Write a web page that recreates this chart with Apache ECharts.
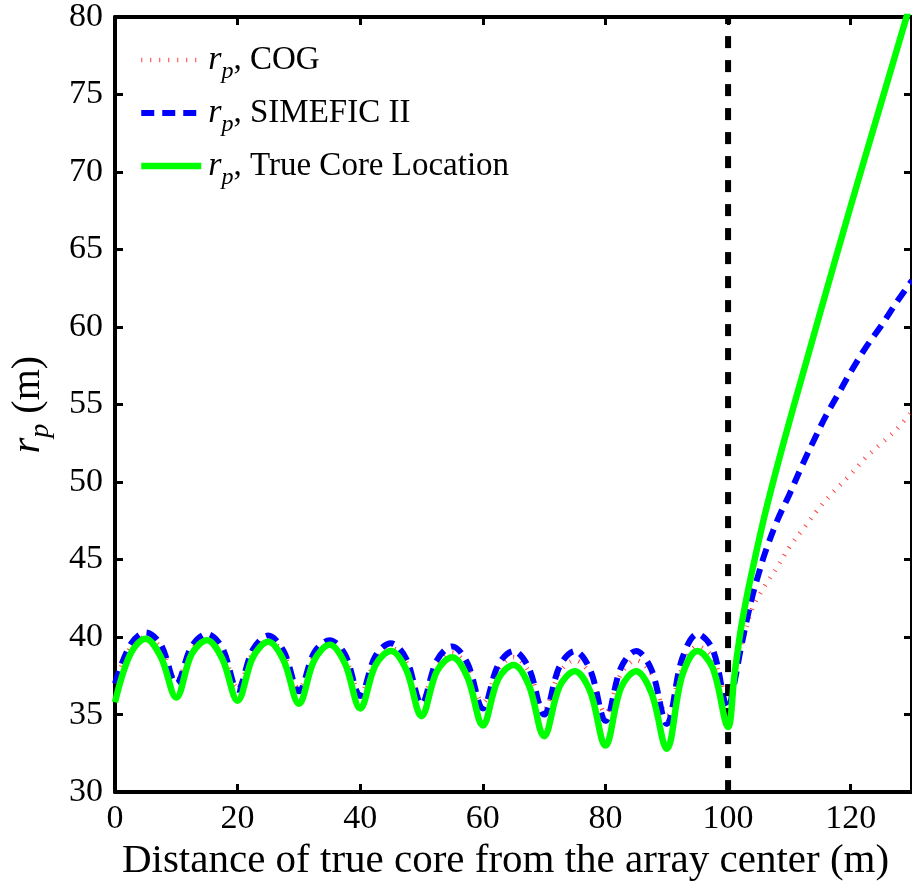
<!DOCTYPE html>
<html><head><meta charset="utf-8">
<script src="https://cdn.jsdelivr.net/npm/echarts@6/dist/echarts.min.js"></script>
<style>html,body{margin:0;padding:0;background:#fff}#c{width:912px;height:887px}</style>
</head><body><div id="c"></div>
<script>
// Shared x positions for the oscillating part (m)
const xOsc = [0,2.5,5,7.5,10,12.5,15,17.5,20,22.5,25,27.5,30,32.5,35,37.5,40,42.5,45,47.5,50,
  52.5,55,57.5,60,62.5,65,67.5,70,72.5,75,77.5,80,82.5,85,87.5,90,92.5,95,97.5,100];

// r_p, COG
const cogOsc = [37.0,39.3,40.0,39.3,37.2,39.2,39.9,39.1,36.8,39.0,39.8,38.9,36.7,38.8,39.5,38.7,36.4,38.5,39.3,38.4,36.0,
  38.2,39.0,38.1,35.8,37.9,38.7,37.8,35.4,37.7,38.5,37.6,35.1,37.6,38.5,37.6,35.0,38.0,39.4,38.7,36.0];
const cogRiseX = [101,102,103,104,106,108,110,112.5,115,117.5,120,122.5,125,127.5,130];
const cogRise  = [37.6,39.3,40.6,41.9,43.3,44.5,45.8,47.1,48.4,49.5,50.5,51.6,52.5,53.4,54.6];

// r_p, SIMEFIC II
const simOsc = [37.0,39.5,40.3,39.5,37.0,39.4,40.2,39.3,36.6,39.2,40.1,39.1,36.5,39.0,39.8,38.9,36.2,38.8,39.6,38.6,35.7,
  38.5,39.4,38.3,35.4,38.2,39.1,38.0,35.0,38.1,39.1,37.9,34.6,38.0,39.1,37.9,34.4,38.6,40.2,39.2,35.4];
const simRiseX = [101,102,103,104,105,106,108,110,112,114,116,118,120,122.5,125,127.5,130];
const simRise  = [37.0,39.1,41.0,42.7,44.1,45.4,47.5,49.2,51.0,52.7,54.3,55.7,57.1,58.7,60.1,61.6,63.0];

// r_p, True Core Location
const trueOsc = [35.8,38.9,39.9,38.7,36.1,38.9,39.8,38.6,35.9,38.7,39.7,38.5,35.7,38.5,39.5,38.3,35.4,38.2,39.1,37.9,34.9,
  37.8,38.7,37.4,34.3,37.3,38.2,36.9,33.6,36.8,37.8,36.5,33.0,36.7,37.8,36.4,32.8,37.5,39.1,38.0,34.2];
const trueRiseX = [101,102,103,104,106,108,110,112,115,120,125,130];
const trueRise  = [37.4,40.3,42.5,44.4,47.9,51.0,53.9,56.7,60.9,67.8,74.5,81.2];

// vertical marker (array edge)
const vlineX = [100,100];
const vlineY = [30,80];

const seriesNames = ['COG','SIMEFIC II','True Core Location'];
const xTicks = {min:0, max:130, interval:20};
const yTicks = {min:30, max:80, interval:5};

const FONT = "'Liberation Serif','Times New Roman',serif";
function pairs(xs, ys){ return xs.map((v,i)=>[v, ys[i]]); }

const COLORS = ['#ff2020','#0000ff','#00ff00'];
const STYLES = [
  {color:COLORS[0], width:4.5, type:[1,8], opacity:0.85},
  {color:COLORS[1], width:6, type:[13,8]},
  {color:COLORS[2], width:6.5, type:'solid'}
];

const chart = echarts.init(document.getElementById('c'), null, {renderer:'canvas'});
const axisLineStyle = {color:'#000', width:4};
const tickStyle = {show:true, inside:true, length:8, lineStyle:{color:'#000', width:3}};
const rich = {
  r:{fontFamily:FONT, fontStyle:'italic', fontSize:34, lineHeight:48, color:'#000', padding:[0,0,0,2]},
  s:{fontFamily:FONT, fontStyle:'italic', fontSize:24, lineHeight:22, verticalAlign:'bottom', color:'#000'},
  t:{fontFamily:FONT, fontSize:33, lineHeight:48, color:'#000'}
};
const richName = {
  r:{fontFamily:FONT, fontStyle:'italic', fontSize:40, lineHeight:54, color:'#000'},
  s:{fontFamily:FONT, fontStyle:'italic', fontSize:28, lineHeight:28, verticalAlign:'bottom', color:'#000'},
  t:{fontFamily:FONT, fontSize:40, lineHeight:54, color:'#000'}
};

chart.setOption({
  animation:false,
  backgroundColor:'#fff',
  textStyle:{fontFamily:FONT},
  grid:{left:115, top:13, width:800, height:790, containLabel:false},
  legend:{
    orient:'vertical', left:133, top:38, itemWidth:60, itemHeight:20, itemGap:12,
    itemStyle:{opacity:0},
    data:seriesNames.map((n,i)=>({name:n, itemStyle:{opacity:0}, lineStyle:STYLES[i]})),
    formatter:n=>'{r|r}{s|p}{t|, '+n+'}',
    textStyle:{fontFamily:FONT, fontSize:33, color:'#000', rich:rich}
  },
  xAxis:[{
    type:'value', position:'bottom', min:xTicks.min, max:xTicks.max, interval:xTicks.interval,
    axisLine:{show:true, onZero:false, lineStyle:axisLineStyle}, axisTick:tickStyle,
    axisLabel:{fontFamily:FONT, fontSize:34, color:'#000', margin:10, showMaxLabel:false},
    splitLine:{show:false},
    name:'Distance of true core from the array center (m)', nameLocation:'middle', nameGap:42,
    nameTextStyle:{fontFamily:FONT, fontSize:41, color:'#000', padding:[0,16,0,0]}
  },{
    type:'value', position:'top', min:xTicks.min, max:xTicks.max, interval:xTicks.interval,
    axisLine:{show:true, onZero:false, lineStyle:axisLineStyle}, axisTick:tickStyle,
    axisLabel:{show:false}, splitLine:{show:false}
  }],
  yAxis:[{
    type:'value', position:'left', min:yTicks.min, max:yTicks.max, interval:yTicks.interval,
    axisLine:{show:true, onZero:false, lineStyle:axisLineStyle}, axisTick:tickStyle,
    axisLabel:{fontFamily:FONT, fontSize:34, color:'#000', margin:12},
    splitLine:{show:false},
    name:'{r|r}{s|p}{t| (m)}', nameLocation:'middle', nameRotate:90, nameGap:60,
    nameTextStyle:{fontFamily:FONT, fontSize:40, color:'#000', rich:richName}
  },{
    type:'value', position:'right', min:yTicks.min, max:yTicks.max, interval:yTicks.interval,
    axisLine:{show:true, onZero:false, lineStyle:axisLineStyle}, axisTick:tickStyle,
    axisLabel:{show:false}, splitLine:{show:false}
  }],
  series:[
    {name:seriesNames[0], type:'line', data:pairs(xOsc.concat(cogRiseX), cogOsc.concat(cogRise)),
     smooth:0.35, symbol:'none', clip:true, z:2,
     itemStyle:{color:COLORS[0]}, lineStyle:STYLES[0]},
    {name:seriesNames[1], type:'line', data:pairs(xOsc.concat(simRiseX), simOsc.concat(simRise)),
     smooth:0.35, symbol:'none', clip:true, z:3,
     itemStyle:{color:COLORS[1]}, lineStyle:STYLES[1]},
    {name:'edge', type:'line', data:pairs(vlineX, vlineY), symbol:'none', clip:true, z:4,
     lineStyle:{color:'#000', width:6, type:[12,12]}, silent:true},
    {name:seriesNames[2], type:'line', data:pairs(xOsc.concat(trueRiseX), trueOsc.concat(trueRise)),
     smooth:0.35, symbol:'none', clip:true, z:5,
     itemStyle:{color:COLORS[2]}, lineStyle:STYLES[2]}
  ]
});
</script></body></html>
